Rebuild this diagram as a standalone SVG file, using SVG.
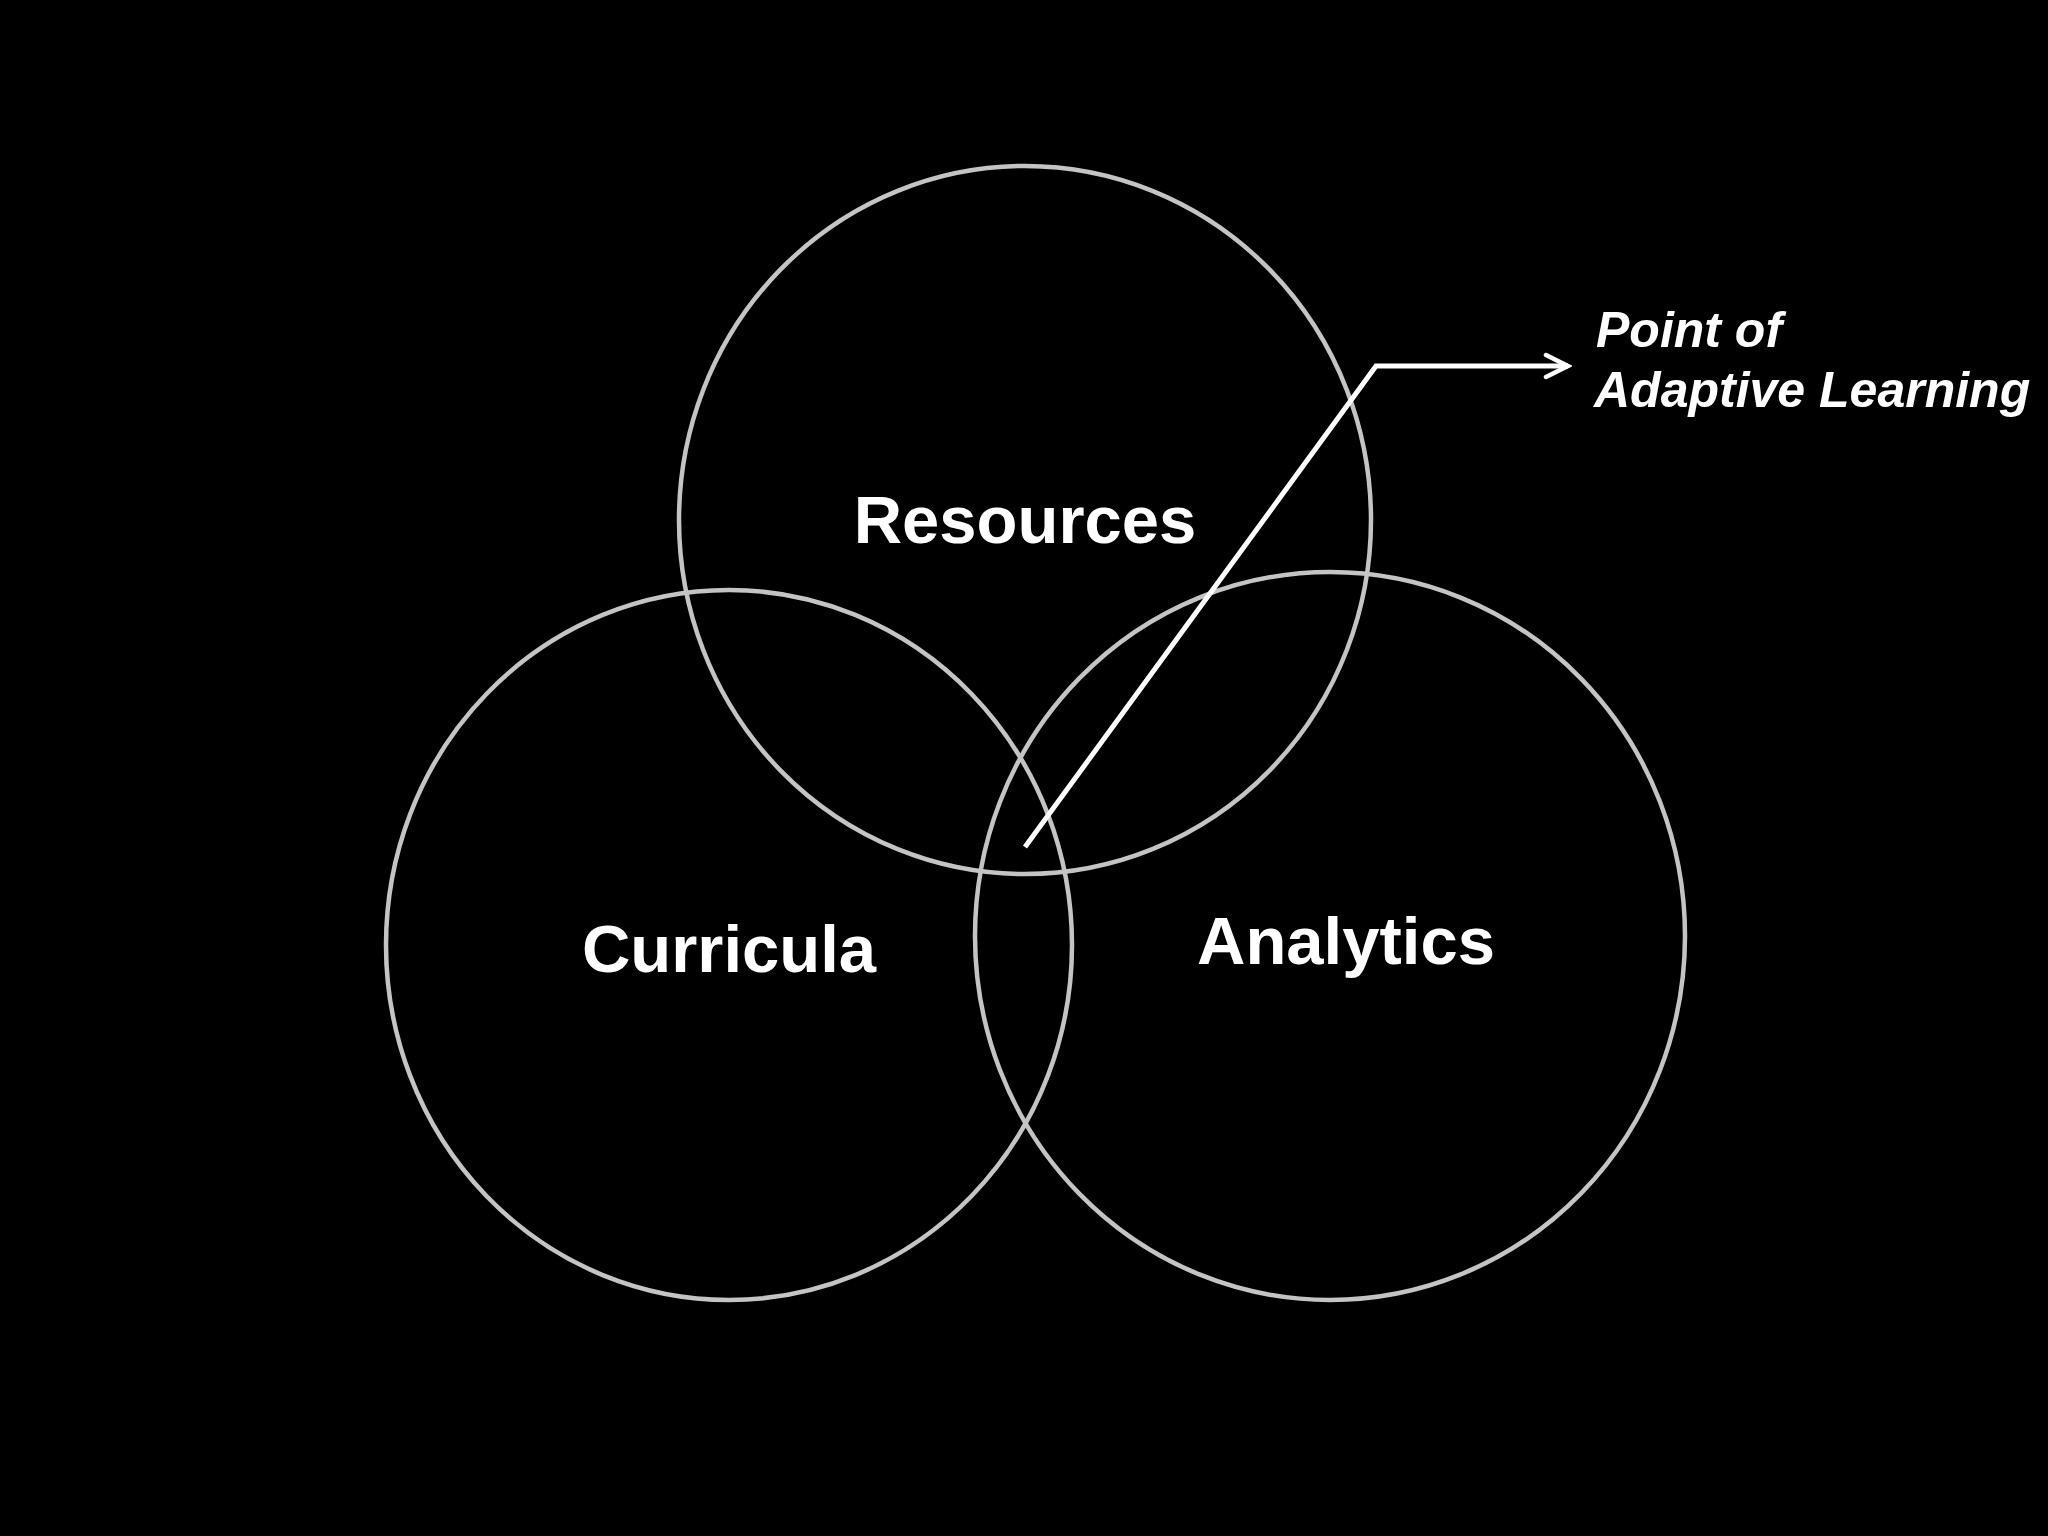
<svg xmlns="http://www.w3.org/2000/svg" width="2048" height="1536" viewBox="0 0 2048 1536">
<style>
.ring{fill:none;stroke:#c4c4c4;stroke-width:4.5}
.lbl{font-family:"Liberation Sans",Arial,sans-serif;font-weight:bold;font-size:67px;fill:#ffffff;text-anchor:middle}
.note{font-family:"Liberation Sans",Arial,sans-serif;font-weight:bold;font-style:italic;font-size:50px;fill:#ffffff}
.conn{fill:none;stroke:#ffffff;stroke-width:5}
</style>
<defs>
<marker id="arr" viewBox="0 0 30 30" refX="26" refY="15" markerWidth="30" markerHeight="30" markerUnits="userSpaceOnUse" orient="auto">
<path d="M4,4 L26,15 L4,26" fill="none" stroke="#ffffff" stroke-width="4.5" stroke-linecap="round"/>
</marker>
</defs>
<rect width="2048" height="1536" fill="#000000"/>
<g id="resources">
<ellipse class="ring" cx="1025" cy="520" rx="346" ry="354"/>
<text class="lbl" x="1025" y="543">Resources</text>
</g>
<g id="curricula">
<ellipse class="ring" cx="729" cy="945" rx="343" ry="355"/>
<text class="lbl" x="729" y="972">Curricula</text>
</g>
<g id="analytics">
<ellipse class="ring" cx="1330" cy="936" rx="355" ry="364"/>
<text class="lbl" x="1346" y="964">Analytics</text>
</g>
<g id="connectors">
<polyline class="conn" points="1025,847 1376,366 1568,366" marker-end="url(#arr)"/>
</g>
<g id="point-label">
<text class="note" x="1596" y="347">Point of</text>
<text class="note" x="1594" y="407">Adaptive Learning</text>
</g>
</svg>
